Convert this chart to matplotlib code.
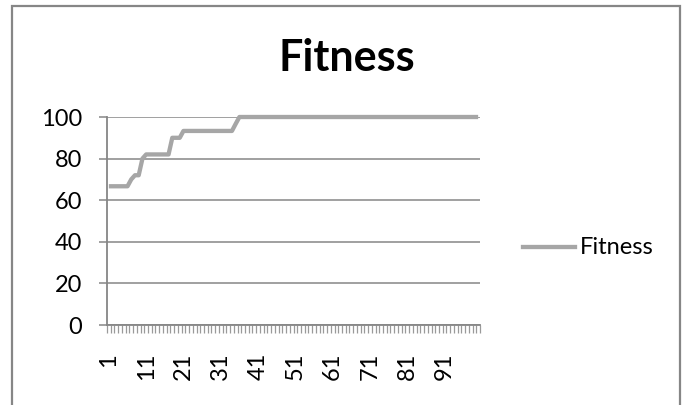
import numpy as np
import matplotlib
matplotlib.use("Agg")
import matplotlib.pyplot as plt
from matplotlib.patches import Rectangle

plt.rcParams['font.family'] = ['Lato', 'DejaVu Sans']

title = "Fitness"
series_name = "Fitness"

# generation index 1..100
generations = list(range(1, 101))

# best fitness per generation
fitness = [
    66.7, 66.7, 66.7, 66.7, 66.7, 66.7, 70.0, 72.0, 72.0, 80.0,
    82.0, 82.0, 82.0, 82.0, 82.0, 82.0, 82.0, 90.0, 90.0, 90.0,
    93.3, 93.3, 93.3, 93.3, 93.3, 93.3, 93.3, 93.3, 93.3, 93.3,
    93.3, 93.3, 93.3, 93.3, 96.7, 100.0, 100.0, 100.0, 100.0, 100.0,
    100.0, 100.0, 100.0, 100.0, 100.0, 100.0, 100.0, 100.0, 100.0, 100.0,
    100.0, 100.0, 100.0, 100.0, 100.0, 100.0, 100.0, 100.0, 100.0, 100.0,
    100.0, 100.0, 100.0, 100.0, 100.0, 100.0, 100.0, 100.0, 100.0, 100.0,
    100.0, 100.0, 100.0, 100.0, 100.0, 100.0, 100.0, 100.0, 100.0, 100.0,
    100.0, 100.0, 100.0, 100.0, 100.0, 100.0, 100.0, 100.0, 100.0, 100.0,
    100.0, 100.0, 100.0, 100.0, 100.0, 100.0, 100.0, 100.0, 100.0, 100.0,
]

y_ticks = [0, 20, 40, 60, 80, 100]
x_labels = [1, 11, 21, 31, 41, 51, 61, 71, 81, 91]

W, H = 685, 405
fig = plt.figure(figsize=(W / 100, H / 100), dpi=100)

axis_gray = "#868686"
line_gray = "#A6A6A6"
label_size = 17

# chart frame
fig.patches.append(Rectangle((11.5 / W, -0.02), (680 - 11.5) / W, 1.0 - 5.5 / H + 0.02,
                             transform=fig.transFigure, fill=False,
                             edgecolor=axis_gray, linewidth=1.6, zorder=0))

ax = fig.add_axes([107 / W, 1 - 325 / H, (480 - 107) / W, (325 - 117) / H])

ax.plot(generations, fitness, color=line_gray, linewidth=3.1,
        solid_joinstyle="round", solid_capstyle="butt", label=series_name,
        clip_on=False, zorder=3)

ax.set_xlim(0.5, 100.5)
ax.set_ylim(0, 100)

ax.set_yticks(y_ticks)
ax.set_yticklabels([str(v) for v in y_ticks], fontsize=label_size)
ax.yaxis.grid(True, color=axis_gray, linewidth=1.1)
ax.set_axisbelow(True)
ax.tick_params(axis="y", direction="out", length=6, width=1.1, color=axis_gray,
               pad=12, labelcolor="black")

ax.set_xticks(x_labels)
ax.set_xticklabels([str(v) for v in x_labels], rotation=90, fontsize=label_size,
                   va="top", ha="center")
ax.tick_params(axis="x", which="major", length=0, pad=20)
ax.set_xticks(np.arange(0.5, 101.0, 1.0), minor=True)
ax.tick_params(axis="x", which="minor", direction="out", length=5.5, width=0.9,
               color="#9A9A9A")

for side in ("top", "right"):
    ax.spines[side].set_visible(False)
for side in ("left", "bottom"):
    ax.spines[side].set_color(axis_gray)
    ax.spines[side].set_linewidth(1.3)

fig.text(347 / W, 1 - 58 / H, title, ha="center", va="center",
         fontsize=31, fontweight="bold")

# legend entry
fig.add_artist(plt.Line2D([523 / W, 575 / W], [1 - 247 / H, 1 - 247 / H],
                          transform=fig.transFigure, color=line_gray,
                          linewidth=3.1))
fig.text(580 / W, 1 - 248 / H, series_name, ha="left", va="center",
         fontsize=label_size)

fig.savefig("out.png", dpi=100)
